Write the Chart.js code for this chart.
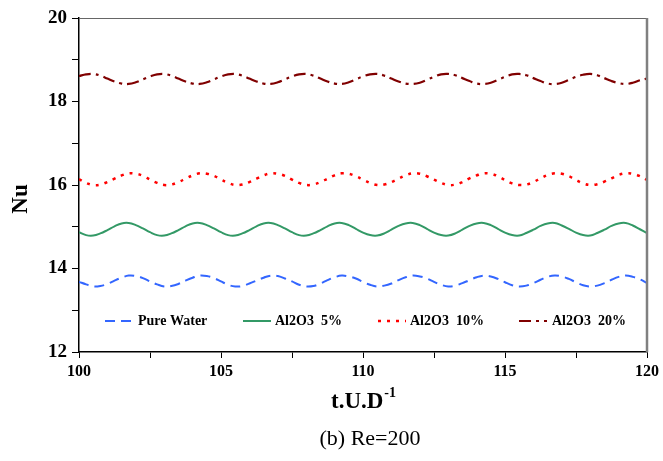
<!DOCTYPE html>
<html>
<head>
<meta charset="utf-8">
<script src="https://cdn.jsdelivr.net/npm/chart.js@4.4.1/dist/chart.umd.min.js"></script>
<style>
  html, body { margin: 0; padding: 0; background: #fff; }
</style>
</head>
<body>
<canvas id="nu-chart" width="663" height="461"></canvas>
<script>
// Nu vs t.U.D^-1, Re=200
const time = [
  100, 100.25, 100.5, 100.75, 101, 101.25, 101.5, 101.75, 102, 102.25,
  102.5, 102.75, 103, 103.25, 103.5, 103.75, 104, 104.25, 104.5, 104.75,
  105, 105.25, 105.5, 105.75, 106, 106.25, 106.5, 106.75, 107, 107.25,
  107.5, 107.75, 108, 108.25, 108.5, 108.75, 109, 109.25, 109.5, 109.75,
  110, 110.25, 110.5, 110.75, 111, 111.25, 111.5, 111.75, 112, 112.25,
  112.5, 112.75, 113, 113.25, 113.5, 113.75, 114, 114.25, 114.5, 114.75,
  115, 115.25, 115.5, 115.75, 116, 116.25, 116.5, 116.75, 117, 117.25,
  117.5, 117.75, 118, 118.25, 118.5, 118.75, 119, 119.25, 119.5, 119.75,
  120
];

const pureWater = [
  13.68, 13.62, 13.57, 13.58, 13.63, 13.71, 13.78, 13.83, 13.82, 13.77,
  13.69, 13.62, 13.57, 13.58, 13.63, 13.71, 13.78, 13.83, 13.82, 13.77,
  13.69, 13.61, 13.57, 13.58, 13.64, 13.71, 13.78, 13.83, 13.82, 13.76,
  13.69, 13.61, 13.57, 13.58, 13.64, 13.72, 13.79, 13.83, 13.81, 13.76,
  13.68, 13.61, 13.57, 13.59, 13.64, 13.72, 13.79, 13.83, 13.81, 13.76,
  13.68, 13.61, 13.57, 13.59, 13.65, 13.72, 13.79, 13.83, 13.81, 13.75,
  13.67, 13.60, 13.57, 13.59, 13.65, 13.73, 13.80, 13.83, 13.81, 13.75,
  13.67, 13.60, 13.57, 13.59, 13.65, 13.73, 13.80, 13.83, 13.80, 13.74,
  13.65
];

const al2o3_5 = [
  14.87, 14.80, 14.79, 14.84, 14.92, 15.01, 15.08, 15.09, 15.04, 14.96,
  14.87, 14.80, 14.79, 14.84, 14.92, 15.01, 15.08, 15.09, 15.04, 14.96,
  14.87, 14.80, 14.79, 14.84, 14.92, 15.01, 15.08, 15.09, 15.04, 14.96,
  14.87, 14.80, 14.79, 14.84, 14.92, 15.01, 15.08, 15.09, 15.04, 14.95,
  14.86, 14.80, 14.79, 14.84, 14.93, 15.02, 15.08, 15.09, 15.04, 14.95,
  14.86, 14.80, 14.79, 14.84, 14.93, 15.02, 15.08, 15.09, 15.04, 14.95,
  14.86, 14.80, 14.79, 14.85, 14.93, 15.02, 15.08, 15.09, 15.03, 14.95,
  14.86, 14.80, 14.79, 14.85, 14.93, 15.02, 15.08, 15.09, 15.03, 14.94,
  14.85
];

const al2o3_10 = [
  16.14, 16.05, 16.00, 16.01, 16.07, 16.15, 16.23, 16.28, 16.27, 16.22,
  16.13, 16.05, 16.00, 16.01, 16.07, 16.15, 16.23, 16.28, 16.27, 16.22,
  16.13, 16.05, 16.00, 16.01, 16.07, 16.15, 16.23, 16.28, 16.27, 16.22,
  16.13, 16.05, 16.00, 16.01, 16.07, 16.15, 16.23, 16.28, 16.27, 16.21,
  16.13, 16.05, 16.00, 16.01, 16.07, 16.15, 16.23, 16.28, 16.27, 16.21,
  16.13, 16.05, 16.00, 16.01, 16.07, 16.16, 16.23, 16.28, 16.27, 16.21,
  16.12, 16.04, 16.00, 16.01, 16.07, 16.16, 16.24, 16.28, 16.27, 16.21,
  16.12, 16.04, 16.00, 16.02, 16.08, 16.16, 16.24, 16.28, 16.27, 16.21,
  16.12
];

const al2o3_20 = [
  18.61, 18.65, 18.66, 18.62, 18.55, 18.48, 18.43, 18.42, 18.46, 18.53,
  18.60, 18.65, 18.66, 18.62, 18.55, 18.48, 18.43, 18.42, 18.46, 18.53,
  18.60, 18.65, 18.66, 18.62, 18.55, 18.48, 18.43, 18.42, 18.46, 18.53,
  18.60, 18.65, 18.66, 18.62, 18.55, 18.48, 18.43, 18.42, 18.46, 18.53,
  18.60, 18.65, 18.66, 18.62, 18.55, 18.48, 18.43, 18.42, 18.45, 18.52,
  18.59, 18.65, 18.66, 18.63, 18.56, 18.49, 18.43, 18.42, 18.45, 18.52,
  18.59, 18.65, 18.66, 18.63, 18.56, 18.49, 18.43, 18.42, 18.45, 18.52,
  18.59, 18.64, 18.66, 18.63, 18.56, 18.49, 18.44, 18.42, 18.45, 18.51,
  18.55
];

const seriesNames = ['Pure Water', 'Al2O3  5%', 'Al2O3  10%', 'Al2O3  20%'];
const xMajorTicks = [100, 105, 110, 115, 120];
const yMajorTicks = [12, 14, 16, 18, 20];

const SERIF = "'Liberation Serif', 'Times New Roman', serif";

function toPoints(values) {
  return values.map((v, i) => ({ x: time[i], y: v }));
}

const styles = [
  { color: '#3366ff', dash: [10, 6], width: 2 },
  { color: '#339966', dash: [], width: 2 },
  { color: '#ff0000', dash: [3, 6], width: 2.5 },
  { color: '#800000', dash: [12, 5, 3, 5], width: 2.2 },
];
const seriesData = [pureWater, al2o3_5, al2o3_10, al2o3_20];

// legend drawn inside the plot, like the original figure
const legendLayout = {
  lineX: [105, 243, 378, 519],
  textX: [138, 275, 410, 552],
  lineLen: 28,
  y: 321,
};

const insideLegend = {
  id: 'insideLegend',
  afterDatasetsDraw(chart) {
    const c = chart.ctx;
    c.save();
    chart.data.datasets.forEach((ds, i) => {
      const x0 = legendLayout.lineX[i];
      c.strokeStyle = ds.borderColor;
      c.lineWidth = ds.borderWidth;
      c.setLineDash(ds.borderDash || []);
      c.beginPath();
      c.moveTo(x0, legendLayout.y);
      c.lineTo(x0 + legendLayout.lineLen, legendLayout.y);
      c.stroke();
      c.setLineDash([]);
      c.fillStyle = '#000';
      c.font = 'bold 14px ' + SERIF;
      c.textBaseline = 'middle';
      c.textAlign = 'left';
      c.fillText(ds.label, legendLayout.textX[i], legendLayout.y);
    });
    c.restore();
  }
};

const frameAndTitles = {
  id: 'frameAndTitles',
  afterDraw(chart) {
    const c = chart.ctx;
    const a = chart.chartArea;
    c.save();
    // top and right frame
    c.strokeStyle = '#666';
    c.lineWidth = 1;
    c.beginPath();
    c.moveTo(a.left, a.top + 0.5);
    c.lineTo(a.right, a.top + 0.5);
    c.stroke();
    c.strokeStyle = '#808080';
    c.lineWidth = 2.5;
    c.beginPath();
    c.moveTo(a.right, a.top);
    c.lineTo(a.right, a.bottom);
    c.stroke();

    c.fillStyle = '#000';
    // y title
    c.save();
    c.translate(21, 199);
    c.rotate(-Math.PI / 2);
    c.font = 'bold 23px ' + SERIF;
    c.textAlign = 'center';
    c.textBaseline = 'middle';
    c.fillText('Nu', 0, 0);
    c.restore();

    // x title with superscript
    c.font = 'bold 23px ' + SERIF;
    const main = 't.U.D';
    const sup = '-1';
    const wMain = c.measureText(main).width;
    c.font = 'bold 14px ' + SERIF;
    const wSup = c.measureText(sup).width;
    const cx = (a.left + a.right) / 2;
    const x0 = cx - (wMain + wSup) / 2;
    c.textAlign = 'left';
    c.textBaseline = 'alphabetic';
    c.font = 'bold 23px ' + SERIF;
    c.fillText(main, x0, 408);
    c.font = 'bold 14px ' + SERIF;
    c.fillText(sup, x0 + wMain + 1, 397);

    // caption
    c.font = '22px ' + SERIF;
    c.textAlign = 'center';
    c.fillText('(b) Re=200', 370, 445);
    c.restore();
  }
};

new Chart(document.getElementById('nu-chart'), {
  type: 'line',
  data: {
    datasets: seriesData.map((vals, i) => ({
      label: seriesNames[i],
      data: toPoints(vals),
      borderColor: styles[i].color,
      borderDash: styles[i].dash,
      borderWidth: styles[i].width,
      pointRadius: 0,
      tension: 0.4,
      fill: false,
    }))
  },
  options: {
    responsive: false,
    animation: false,
    devicePixelRatio: 1,
    layout: { padding: { top: 18, right: 14, left: 0, bottom: 0 } },
    plugins: {
      legend: { display: false },
      tooltip: { enabled: false },
    },
    scales: {
      x: {
        type: 'linear',
        min: 100,
        max: 120,
        afterFit: (s) => { s.height = 109; },
        afterBuildTicks: (s) => {
          s.ticks = [100, 102.5, 105, 107.5, 110, 112.5, 115, 117.5, 120].map((v) => ({ value: v }));
        },
        ticks: {
          callback: (v) => (xMajorTicks.includes(v) ? String(v) : ''),
          color: '#000',
          font: { family: SERIF, size: 16, weight: 'bold' },
          padding: 4,
          maxRotation: 0,
          autoSkip: false,
        },
        grid: { drawOnChartArea: false, drawTicks: true, tickLength: 6, color: '#000' },
        border: { color: '#000', width: 1.5 },
      },
      y: {
        min: 12,
        max: 20,
        afterFit: (s) => { s.width = 79; },
        ticks: {
          stepSize: 1,
          callback: (v) => (yMajorTicks.includes(v) ? String(v) : ''),
          color: '#000',
          font: { family: SERIF, size: 19, weight: 'bold' },
          padding: 5,
        },
        grid: { drawOnChartArea: false, drawTicks: true, tickLength: 7, color: '#000' },
        border: { color: '#000', width: 1.5 },
      }
    }
  },
  plugins: [insideLegend, frameAndTitles]
});
</script>
</body>
</html>
